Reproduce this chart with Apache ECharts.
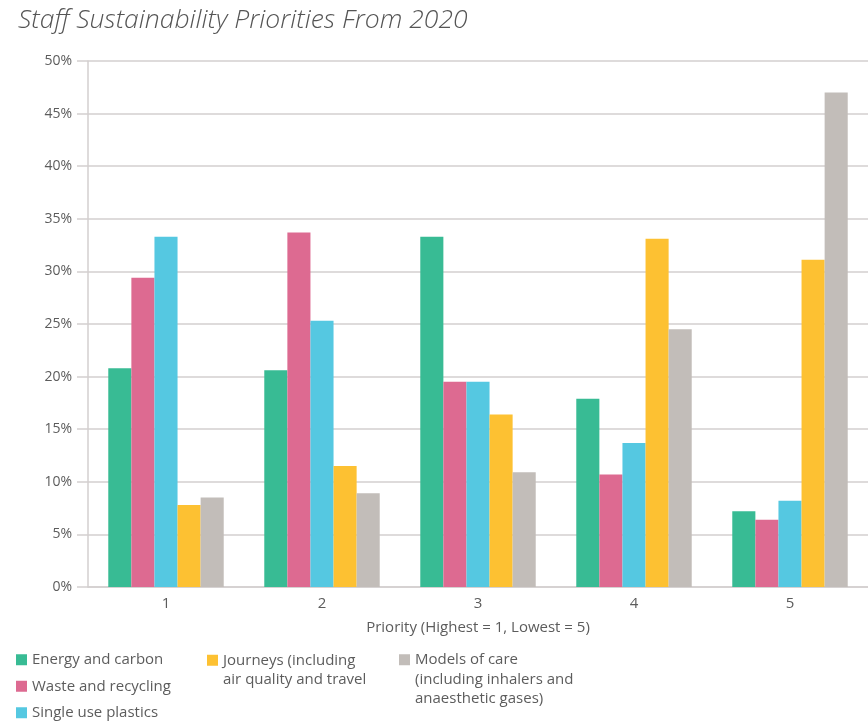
<!DOCTYPE html>
<html>
<head>
<meta charset="utf-8">
<script src="https://cdn.jsdelivr.net/npm/echarts@6/dist/echarts.min.js"></script>
<style>
  html, body { margin: 0; padding: 0; background: #fff; }
  #chart { width: 868px; height: 722px; }
</style>
</head>
<body>
<div id="chart"></div>
<script>
// Priority ranks on the x axis
const priorities = ['1', '2', '3', '4', '5'];

// Share of staff (%) choosing each theme at each priority rank
const energyCarbon     = [20.8, 20.6, 33.3, 17.9, 7.2];
const wasteRecycling   = [29.4, 33.7, 19.5, 10.7, 6.4];
const singleUsePlastic = [33.3, 25.3, 19.5, 13.7, 8.2];
const journeys         = [7.8, 11.5, 16.4, 33.1, 31.1];
const modelsOfCare     = [8.5, 8.9, 10.9, 24.5, 47.0];

// Series names and the wrapped text shown in the legend
const seriesNames = [
  'Energy and carbon',
  'Waste and recycling',
  'Single use plastics',
  'Journeys (including air quality and travel',
  'Models of care (including inhalers and anaesthetic gases)'
];
// Legend text is vertically centred on its swatch, so blank lines are
// put above the wrapped labels to keep the first line level with the swatch.
const legendText = {
  'Journeys (including air quality and travel': '\nJourneys (including\nair quality and travel',
  'Models of care (including inhalers and anaesthetic gases)': '\n\nModels of care\n(including inhalers and\nanaesthetic gases)'
};

const colors = ['#38BB94', '#DD6A91', '#55C8E1', '#FDC132', '#C2BDB9'];
const values = [energyCarbon, wasteRecycling, singleUsePlastic, journeys, modelsOfCare];

const FONT = '"Open Sans", "Noto Sans", sans-serif';
const TEXT = '#5c5c5c';
const GRID = '#d3cfcf';
const LH = 19.5;

const baseLegend = {
  orient: 'vertical',
  padding: 0,
  height: 110,
  itemWidth: 11,
  itemHeight: 11,
  itemGap: 7,
  icon: 'rect',
  selectedMode: false,
  textStyle: { fontFamily: FONT, fontSize: 15, color: TEXT, lineHeight: LH }
};

const chart = echarts.init(document.getElementById('chart'), null, { renderer: 'canvas' });
chart.setOption({
  animation: false,
  color: colors,
  title: {
    text: 'Staff Sustainability Priorities From 2020',
    left: 13,
    top: 2,
    textStyle: { fontFamily: FONT, fontStyle: 'italic', fontWeight: 300, fontSize: 26.5, color: '#555' }
  },
  grid: { left: 88, right: -5, top: 61, bottom: 135 },
  legend: [
    Object.assign({}, baseLegend, {
      left: 16, top: 650,
      data: seriesNames.slice(0, 3)
    }),
    Object.assign({}, baseLegend, {
      left: 207, top: 631,
      data: [seriesNames[3]],
      formatter: n => legendText[n]
    }),
    Object.assign({}, baseLegend, {
      left: 399, top: 611,
      data: [seriesNames[4]],
      formatter: n => legendText[n]
    })
  ],
  xAxis: {
    type: 'category',
    data: priorities,
    name: 'Priority (Highest = 1, Lowest = 5)',
    nameLocation: 'middle',
    nameGap: 33,
    nameTextStyle: { fontFamily: FONT, fontSize: 15, color: TEXT },
    axisLine: { lineStyle: { color: GRID, width: 1.5 } },
    axisTick: { length: 11, lineStyle: { color: GRID, width: 1.5 } },
    axisLabel: { fontFamily: FONT, fontSize: 15, color: TEXT, margin: 9 }
  },
  yAxis: {
    type: 'value',
    min: 0,
    max: 50,
    interval: 5,
    axisLine: { show: true, lineStyle: { color: GRID, width: 1.5 } },
    axisTick: { show: true, length: 11, lineStyle: { color: GRID, width: 1.5 } },
    axisLabel: { formatter: '{value}%', fontFamily: FONT, fontSize: 14, color: TEXT, margin: 16 },
    splitLine: { lineStyle: { color: GRID, width: 1.5 } }
  },
  series: seriesNames.map((name, i) => ({
    name: name,
    type: 'bar',
    data: values[i],
    barGap: '0%',
    barCategoryGap: '26%',
    itemStyle: { color: colors[i] }
  }))
});
</script>
</body>
</html>
